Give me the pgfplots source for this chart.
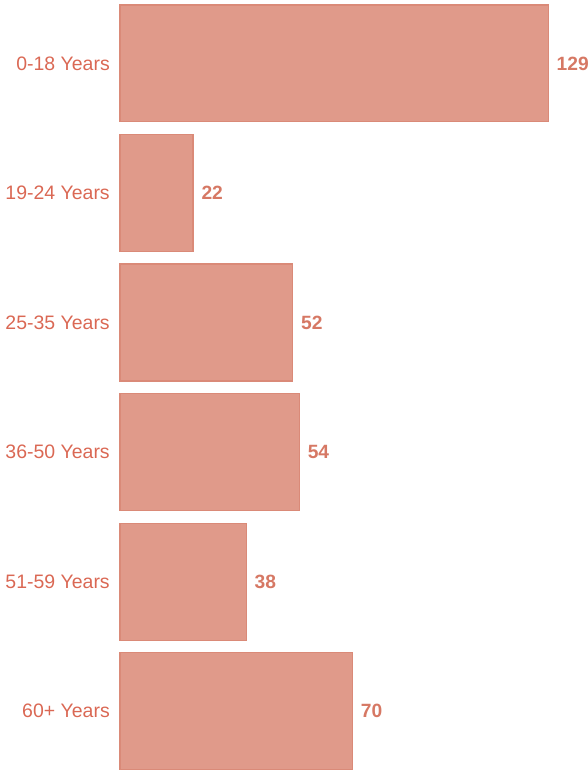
\documentclass[border=0pt]{standalone}
\usepackage{pgfplots}
\pgfplotsset{compat=1.18}
\usepackage{fontspec}
\setmainfont{Liberation Sans}
\definecolor{barfill}{RGB}{224,154,138}
\definecolor{barline}{RGB}{218,138,120}
\definecolor{ticktext}{RGB}{218,104,84}
\definecolor{valtext}{RGB}{214,120,100}
\begin{document}
\begin{tikzpicture}
\begin{axis}[
  at={(0,0)}, anchor=south west,
  scale only axis,
  width=350.25pt, height=577.5pt,
  xbar, bar width=0.903,
  xmin=0, xmax=140.7,
  ymin=-0.49, ymax=5.455,
  y dir=reverse,
  ytick={0,1,2,3,4,5},
  yticklabels={0-18 Years,19-24 Years,25-35 Years,36-50 Years,51-59 Years,60+ Years},
  xtick=\empty,
  axis line style={draw=none},
  major tick length=0pt,
  tick style={draw=none},
  yticklabel style={font=\fontsize{14.6}{17}\selectfont, text=ticktext, inner sep=0pt, xshift=-7.5pt},
  /pgf/number format/assume math mode=true,
  nodes near coords,
  nodes near coords style={font=\fontsize{14.4}{17}\selectfont\bfseries, text=valtext, anchor=west, inner sep=0pt, xshift=6pt},
  clip=false,
]
\addplot[fill=barfill, draw=barline, line width=0.8pt] coordinates {
 (129,0) (22,1) (52,2) (54,3) (38,4) (70,5)
};
\end{axis}
\pgfresetboundingbox
\path[use as bounding box] (-90pt,0) rectangle (350.25pt,577.5pt);
\end{tikzpicture}
\end{document}
